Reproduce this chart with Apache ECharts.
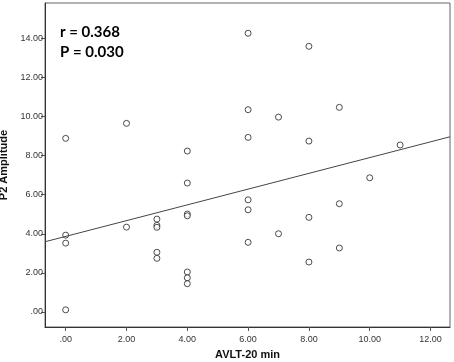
<!DOCTYPE html>
<html>
<head>
<meta charset="utf-8">
<script src="https://cdn.jsdelivr.net/npm/echarts@6/dist/echarts.min.js"></script>
<style>
  html, body { margin: 0; padding: 0; background: #fff; }
  #chart { width: 454px; height: 362px; }
</style>
</head>
<body>
<div id="chart"></div>
<script>
  // AVLT-20 min score (x) vs P2 amplitude (y)
  const avltScores = [0, 0, 0, 0, 2, 2, 3, 3, 3, 3, 3, 4, 4, 4, 4, 4, 4, 4,
                      6, 6, 6, 6, 6, 6, 7, 7, 8, 8, 8, 8, 9, 9, 9, 10, 11]
  const p2Amplitude = [8.89, 3.93, 3.52, 0.10, 9.66, 4.34, 4.75, 4.43, 4.33, 3.05, 2.74,
                       8.24, 6.60, 5.01, 4.92, 2.04, 1.74, 1.44,
                       14.28, 10.36, 8.94, 5.74, 5.23, 3.56, 9.98, 4.00,
                       13.61, 8.75, 4.84, 2.55, 10.48, 5.54, 3.27, 6.87, 8.55]
  const xTicks = [0, 2, 4, 6, 8, 10, 12]
  const yTicks = [0, 2, 4, 6, 8, 10, 12, 14]
  // fitted line
  const fitIntercept = 3.865
  const fitSlope = 0.404
  const statsText = ['r = 0.368', 'P = 0.030']

  const xMin = -0.68, xMax = 12.64
  const yMin = -0.78, yMax = 15.83

  const points = avltScores.map((x, i) => [x, p2Amplitude[i]])
  const fitLine = [xMin, xMax].map(x => [x, fitIntercept + fitSlope * x])

  const fmt = v => v === 0 ? '.00' : v.toFixed(2)
  const axisColor = '#555'

  const chart = echarts.init(document.getElementById('chart'))
  chart.setOption({
    animation: false,
    grid: {
      left: 45, top: 3, right: 4, bottom: 35,
      outerBoundsMode: 'none',
      show: true, borderColor: '#666', borderWidth: 1
    },
    xAxis: {
      type: 'value',
      min: xMin,
      max: xMax,
      name: 'AVLT-20 min',
      nameLocation: 'middle',
      nameGap: 22,
      nameTextStyle: { fontFamily: 'Liberation Sans', fontWeight: 'bold', fontSize: 11, color: '#111' },
      axisLine: { show: true, onZero: false, lineStyle: { color: '#333' } },
      axisTick: { show: true, length: 4, customValues: xTicks, lineStyle: { color: axisColor } },
      axisLabel: { customValues: xTicks, formatter: fmt, fontFamily: 'Liberation Sans', fontSize: 9, color: '#333', margin: 8 },
      splitLine: { show: false }
    },
    yAxis: {
      type: 'value',
      min: yMin,
      max: yMax,
      name: 'P2 Amplitude',
      nameLocation: 'middle',
      nameGap: 26,
      nameTextStyle: { fontFamily: 'Liberation Sans', fontWeight: 'bold', fontSize: 11, color: '#111' },
      axisLine: { show: true, onZero: false, lineStyle: { color: '#333' } },
      axisTick: { show: true, length: 4, customValues: yTicks, lineStyle: { color: axisColor } },
      axisLabel: { customValues: yTicks, formatter: fmt, fontFamily: 'Liberation Sans', fontSize: 9, color: '#333', margin: 2 },
      splitLine: { show: false }
    },
    graphic: [
      {
        type: 'text', left: 60, top: 25,
        style: { text: statsText[0], font: 'bold 15px Lato', fill: '#000' }
      },
      {
        type: 'text', left: 60, top: 45,
        style: { text: statsText[1], font: 'bold 15px Lato', fill: '#000' }
      }
    ],
    series: [
      {
        type: 'line',
        data: fitLine,
        symbol: 'none',
        lineStyle: { color: '#444', width: 1 },
        silent: true
      },
      {
        type: 'scatter',
        data: points,
        symbol: 'circle',
        symbolSize: 6,
        itemStyle: { color: '#fff', borderColor: '#222', borderWidth: 1 }
      }
    ]
  })
</script>
</body>
</html>
